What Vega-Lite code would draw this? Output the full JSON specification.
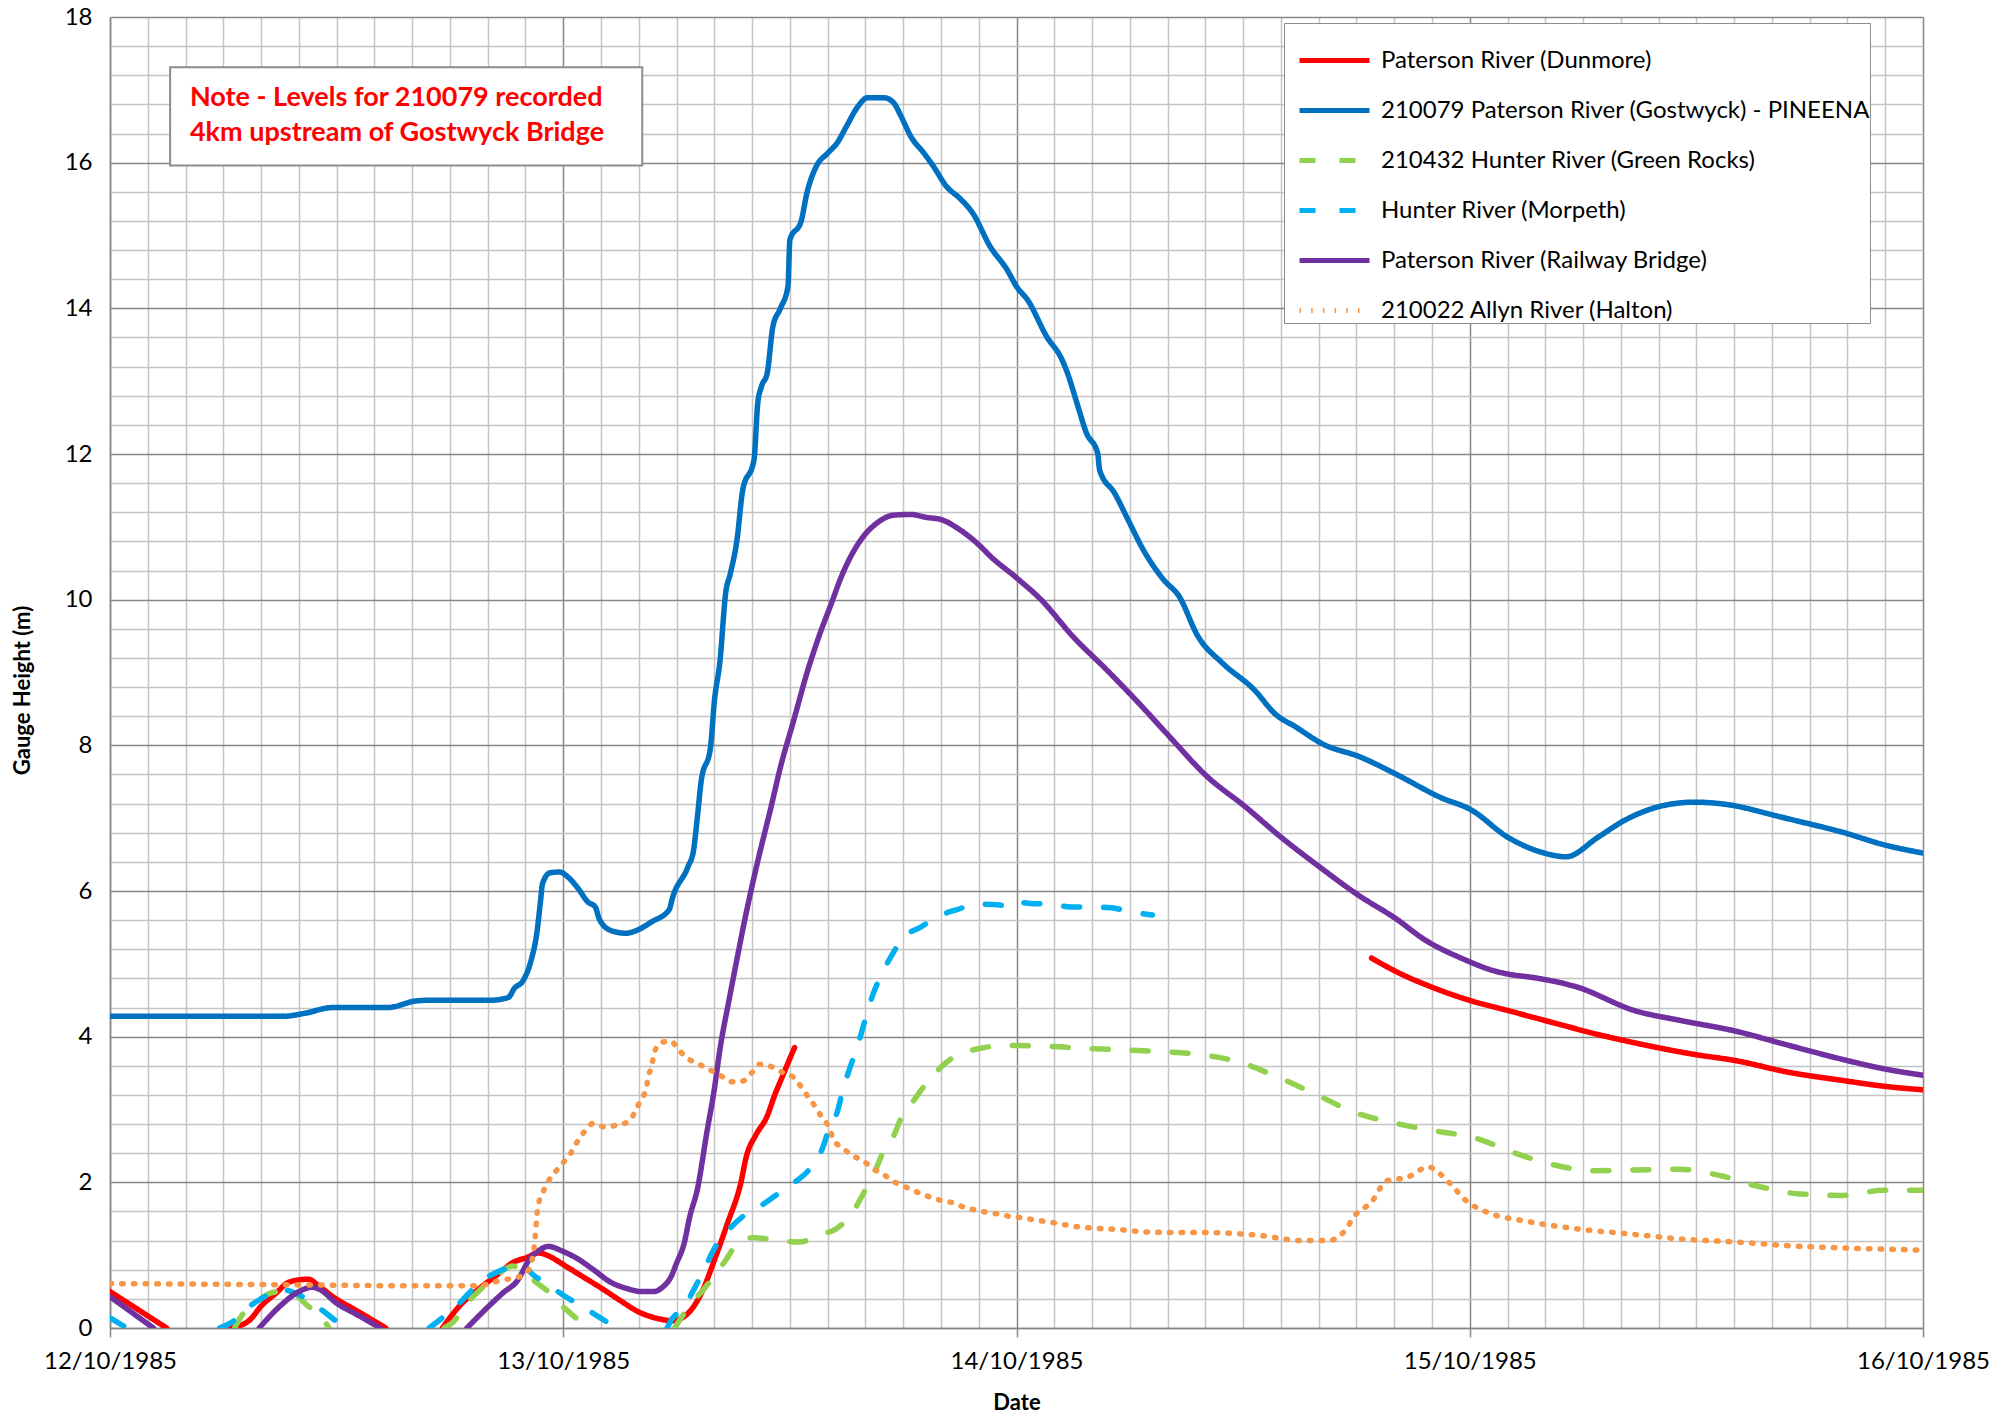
{
  "$schema": "https://vega.github.io/schema/vega-lite/v6.json",
  "width": 1813,
  "height": 1311,
  "autosize": {"type": "none"},
  "padding": {"left": 110, "top": 17, "right": 81, "bottom": 88},
  "background": "white",
  "config": {"view": {"stroke": null}},
  "layer": [
    {
      "data": {"values": [
      {"station": "Paterson River (Dunmore)", "seg": 1, "time": "1985-10-12T00:00", "level": 0.5},
      {"station": "Paterson River (Dunmore)", "seg": 1, "time": "1985-10-12T01:30", "level": 0.25},
      {"station": "Paterson River (Dunmore)", "seg": 1, "time": "1985-10-12T03:00", "level": 0},
      {"station": "Paterson River (Dunmore)", "seg": 2, "time": "1985-10-12T06:24", "level": 0},
      {"station": "Paterson River (Dunmore)", "seg": 2, "time": "1985-10-12T07:24", "level": 0.11},
      {"station": "Paterson River (Dunmore)", "seg": 2, "time": "1985-10-12T08:00", "level": 0.3},
      {"station": "Paterson River (Dunmore)", "seg": 2, "time": "1985-10-12T08:48", "level": 0.48},
      {"station": "Paterson River (Dunmore)", "seg": 2, "time": "1985-10-12T09:24", "level": 0.62},
      {"station": "Paterson River (Dunmore)", "seg": 2, "time": "1985-10-12T10:00", "level": 0.66},
      {"station": "Paterson River (Dunmore)", "seg": 2, "time": "1985-10-12T10:30", "level": 0.67},
      {"station": "Paterson River (Dunmore)", "seg": 2, "time": "1985-10-12T11:00", "level": 0.59},
      {"station": "Paterson River (Dunmore)", "seg": 2, "time": "1985-10-12T11:48", "level": 0.43},
      {"station": "Paterson River (Dunmore)", "seg": 2, "time": "1985-10-12T12:54", "level": 0.26},
      {"station": "Paterson River (Dunmore)", "seg": 2, "time": "1985-10-12T13:42", "level": 0.14},
      {"station": "Paterson River (Dunmore)", "seg": 2, "time": "1985-10-12T14:36", "level": 0},
      {"station": "Paterson River (Dunmore)", "seg": 3, "time": "1985-10-12T17:36", "level": 0},
      {"station": "Paterson River (Dunmore)", "seg": 3, "time": "1985-10-12T18:30", "level": 0.3},
      {"station": "Paterson River (Dunmore)", "seg": 3, "time": "1985-10-12T19:30", "level": 0.53},
      {"station": "Paterson River (Dunmore)", "seg": 3, "time": "1985-10-12T20:36", "level": 0.75},
      {"station": "Paterson River (Dunmore)", "seg": 3, "time": "1985-10-12T21:24", "level": 0.91},
      {"station": "Paterson River (Dunmore)", "seg": 3, "time": "1985-10-12T22:00", "level": 0.96},
      {"station": "Paterson River (Dunmore)", "seg": 3, "time": "1985-10-12T22:42", "level": 1.03},
      {"station": "Paterson River (Dunmore)", "seg": 3, "time": "1985-10-12T23:18", "level": 0.98},
      {"station": "Paterson River (Dunmore)", "seg": 3, "time": "1985-10-13T00:00", "level": 0.87},
      {"station": "Paterson River (Dunmore)", "seg": 3, "time": "1985-10-13T01:00", "level": 0.71},
      {"station": "Paterson River (Dunmore)", "seg": 3, "time": "1985-10-13T02:00", "level": 0.55},
      {"station": "Paterson River (Dunmore)", "seg": 3, "time": "1985-10-13T03:00", "level": 0.38},
      {"station": "Paterson River (Dunmore)", "seg": 3, "time": "1985-10-13T04:00", "level": 0.22},
      {"station": "Paterson River (Dunmore)", "seg": 3, "time": "1985-10-13T05:00", "level": 0.13},
      {"station": "Paterson River (Dunmore)", "seg": 3, "time": "1985-10-13T05:48", "level": 0.1},
      {"station": "Paterson River (Dunmore)", "seg": 3, "time": "1985-10-13T06:36", "level": 0.2},
      {"station": "Paterson River (Dunmore)", "seg": 3, "time": "1985-10-13T07:18", "level": 0.47},
      {"station": "Paterson River (Dunmore)", "seg": 3, "time": "1985-10-13T08:00", "level": 0.93},
      {"station": "Paterson River (Dunmore)", "seg": 3, "time": "1985-10-13T08:42", "level": 1.44},
      {"station": "Paterson River (Dunmore)", "seg": 3, "time": "1985-10-13T09:24", "level": 1.99},
      {"station": "Paterson River (Dunmore)", "seg": 3, "time": "1985-10-13T09:42", "level": 2.36},
      {"station": "Paterson River (Dunmore)", "seg": 3, "time": "1985-10-13T10:12", "level": 2.65},
      {"station": "Paterson River (Dunmore)", "seg": 3, "time": "1985-10-13T10:48", "level": 2.91},
      {"station": "Paterson River (Dunmore)", "seg": 3, "time": "1985-10-13T11:12", "level": 3.2},
      {"station": "Paterson River (Dunmore)", "seg": 3, "time": "1985-10-13T11:36", "level": 3.45},
      {"station": "Paterson River (Dunmore)", "seg": 3, "time": "1985-10-13T12:00", "level": 3.7},
      {"station": "Paterson River (Dunmore)", "seg": 3, "time": "1985-10-13T12:15", "level": 3.85},
      {"station": "Paterson River (Dunmore)", "seg": 4, "time": "1985-10-14T18:48", "level": 5.08},
      {"station": "Paterson River (Dunmore)", "seg": 4, "time": "1985-10-14T20:12", "level": 4.88},
      {"station": "Paterson River (Dunmore)", "seg": 4, "time": "1985-10-14T21:48", "level": 4.7},
      {"station": "Paterson River (Dunmore)", "seg": 4, "time": "1985-10-15T00:06", "level": 4.49},
      {"station": "Paterson River (Dunmore)", "seg": 4, "time": "1985-10-15T02:00", "level": 4.36},
      {"station": "Paterson River (Dunmore)", "seg": 4, "time": "1985-10-15T04:18", "level": 4.2},
      {"station": "Paterson River (Dunmore)", "seg": 4, "time": "1985-10-15T07:06", "level": 4.01},
      {"station": "Paterson River (Dunmore)", "seg": 4, "time": "1985-10-15T09:00", "level": 3.9},
      {"station": "Paterson River (Dunmore)", "seg": 4, "time": "1985-10-15T11:48", "level": 3.76},
      {"station": "Paterson River (Dunmore)", "seg": 4, "time": "1985-10-15T14:06", "level": 3.67},
      {"station": "Paterson River (Dunmore)", "seg": 4, "time": "1985-10-15T16:54", "level": 3.51},
      {"station": "Paterson River (Dunmore)", "seg": 4, "time": "1985-10-15T19:42", "level": 3.4},
      {"station": "Paterson River (Dunmore)", "seg": 4, "time": "1985-10-15T21:54", "level": 3.32},
      {"station": "Paterson River (Dunmore)", "seg": 4, "time": "1985-10-16T00:00", "level": 3.27},
      {"station": "210079 Paterson River (Gostwyck) - PINEENA", "seg": 1, "time": "1985-10-12T00:00", "level": 4.28},
      {"station": "210079 Paterson River (Gostwyck) - PINEENA", "seg": 1, "time": "1985-10-12T09:12", "level": 4.28},
      {"station": "210079 Paterson River (Gostwyck) - PINEENA", "seg": 1, "time": "1985-10-12T10:18", "level": 4.32},
      {"station": "210079 Paterson River (Gostwyck) - PINEENA", "seg": 1, "time": "1985-10-12T11:48", "level": 4.4},
      {"station": "210079 Paterson River (Gostwyck) - PINEENA", "seg": 1, "time": "1985-10-12T14:42", "level": 4.4},
      {"station": "210079 Paterson River (Gostwyck) - PINEENA", "seg": 1, "time": "1985-10-12T16:12", "level": 4.49},
      {"station": "210079 Paterson River (Gostwyck) - PINEENA", "seg": 1, "time": "1985-10-12T16:54", "level": 4.5},
      {"station": "210079 Paterson River (Gostwyck) - PINEENA", "seg": 1, "time": "1985-10-12T20:12", "level": 4.5},
      {"station": "210079 Paterson River (Gostwyck) - PINEENA", "seg": 1, "time": "1985-10-12T21:06", "level": 4.54},
      {"station": "210079 Paterson River (Gostwyck) - PINEENA", "seg": 1, "time": "1985-10-12T21:24", "level": 4.66},
      {"station": "210079 Paterson River (Gostwyck) - PINEENA", "seg": 1, "time": "1985-10-12T21:54", "level": 4.78},
      {"station": "210079 Paterson River (Gostwyck) - PINEENA", "seg": 1, "time": "1985-10-12T22:18", "level": 5.05},
      {"station": "210079 Paterson River (Gostwyck) - PINEENA", "seg": 1, "time": "1985-10-12T22:36", "level": 5.42},
      {"station": "210079 Paterson River (Gostwyck) - PINEENA", "seg": 1, "time": "1985-10-12T22:48", "level": 5.87},
      {"station": "210079 Paterson River (Gostwyck) - PINEENA", "seg": 1, "time": "1985-10-12T22:54", "level": 6.1},
      {"station": "210079 Paterson River (Gostwyck) - PINEENA", "seg": 1, "time": "1985-10-12T23:18", "level": 6.25},
      {"station": "210079 Paterson River (Gostwyck) - PINEENA", "seg": 1, "time": "1985-10-12T23:48", "level": 6.26},
      {"station": "210079 Paterson River (Gostwyck) - PINEENA", "seg": 1, "time": "1985-10-13T00:18", "level": 6.18},
      {"station": "210079 Paterson River (Gostwyck) - PINEENA", "seg": 1, "time": "1985-10-13T00:48", "level": 6.03},
      {"station": "210079 Paterson River (Gostwyck) - PINEENA", "seg": 1, "time": "1985-10-13T01:18", "level": 5.85},
      {"station": "210079 Paterson River (Gostwyck) - PINEENA", "seg": 1, "time": "1985-10-13T01:42", "level": 5.78},
      {"station": "210079 Paterson River (Gostwyck) - PINEENA", "seg": 1, "time": "1985-10-13T01:54", "level": 5.62},
      {"station": "210079 Paterson River (Gostwyck) - PINEENA", "seg": 1, "time": "1985-10-13T02:30", "level": 5.46},
      {"station": "210079 Paterson River (Gostwyck) - PINEENA", "seg": 1, "time": "1985-10-13T03:18", "level": 5.42},
      {"station": "210079 Paterson River (Gostwyck) - PINEENA", "seg": 1, "time": "1985-10-13T03:54", "level": 5.46},
      {"station": "210079 Paterson River (Gostwyck) - PINEENA", "seg": 1, "time": "1985-10-13T04:42", "level": 5.58},
      {"station": "210079 Paterson River (Gostwyck) - PINEENA", "seg": 1, "time": "1985-10-13T05:36", "level": 5.74},
      {"station": "210079 Paterson River (Gostwyck) - PINEENA", "seg": 1, "time": "1985-10-13T05:48", "level": 5.92},
      {"station": "210079 Paterson River (Gostwyck) - PINEENA", "seg": 1, "time": "1985-10-13T06:36", "level": 6.33},
      {"station": "210079 Paterson River (Gostwyck) - PINEENA", "seg": 1, "time": "1985-10-13T06:54", "level": 6.56},
      {"station": "210079 Paterson River (Gostwyck) - PINEENA", "seg": 1, "time": "1985-10-13T07:06", "level": 7.01},
      {"station": "210079 Paterson River (Gostwyck) - PINEENA", "seg": 1, "time": "1985-10-13T07:18", "level": 7.5},
      {"station": "210079 Paterson River (Gostwyck) - PINEENA", "seg": 1, "time": "1985-10-13T07:48", "level": 7.98},
      {"station": "210079 Paterson River (Gostwyck) - PINEENA", "seg": 1, "time": "1985-10-13T08:00", "level": 8.6},
      {"station": "210079 Paterson River (Gostwyck) - PINEENA", "seg": 1, "time": "1985-10-13T08:18", "level": 9.16},
      {"station": "210079 Paterson River (Gostwyck) - PINEENA", "seg": 1, "time": "1985-10-13T08:36", "level": 10.09},
      {"station": "210079 Paterson River (Gostwyck) - PINEENA", "seg": 1, "time": "1985-10-13T08:51", "level": 10.36},
      {"station": "210079 Paterson River (Gostwyck) - PINEENA", "seg": 1, "time": "1985-10-13T09:12", "level": 10.82},
      {"station": "210079 Paterson River (Gostwyck) - PINEENA", "seg": 1, "time": "1985-10-13T09:30", "level": 11.5},
      {"station": "210079 Paterson River (Gostwyck) - PINEENA", "seg": 1, "time": "1985-10-13T10:06", "level": 11.92},
      {"station": "210079 Paterson River (Gostwyck) - PINEENA", "seg": 1, "time": "1985-10-13T10:18", "level": 12.7},
      {"station": "210079 Paterson River (Gostwyck) - PINEENA", "seg": 1, "time": "1985-10-13T10:30", "level": 12.93},
      {"station": "210079 Paterson River (Gostwyck) - PINEENA", "seg": 1, "time": "1985-10-13T10:48", "level": 13.11},
      {"station": "210079 Paterson River (Gostwyck) - PINEENA", "seg": 1, "time": "1985-10-13T11:06", "level": 13.75},
      {"station": "210079 Paterson River (Gostwyck) - PINEENA", "seg": 1, "time": "1985-10-13T11:30", "level": 14.0},
      {"station": "210079 Paterson River (Gostwyck) - PINEENA", "seg": 1, "time": "1985-10-13T11:54", "level": 14.3},
      {"station": "210079 Paterson River (Gostwyck) - PINEENA", "seg": 1, "time": "1985-10-13T12:00", "level": 14.94},
      {"station": "210079 Paterson River (Gostwyck) - PINEENA", "seg": 1, "time": "1985-10-13T12:36", "level": 15.2},
      {"station": "210079 Paterson River (Gostwyck) - PINEENA", "seg": 1, "time": "1985-10-13T12:54", "level": 15.58},
      {"station": "210079 Paterson River (Gostwyck) - PINEENA", "seg": 1, "time": "1985-10-13T13:24", "level": 15.95},
      {"station": "210079 Paterson River (Gostwyck) - PINEENA", "seg": 1, "time": "1985-10-13T14:00", "level": 16.13},
      {"station": "210079 Paterson River (Gostwyck) - PINEENA", "seg": 1, "time": "1985-10-13T14:30", "level": 16.27},
      {"station": "210079 Paterson River (Gostwyck) - PINEENA", "seg": 1, "time": "1985-10-13T15:00", "level": 16.5},
      {"station": "210079 Paterson River (Gostwyck) - PINEENA", "seg": 1, "time": "1985-10-13T15:36", "level": 16.77},
      {"station": "210079 Paterson River (Gostwyck) - PINEENA", "seg": 1, "time": "1985-10-13T16:06", "level": 16.89},
      {"station": "210079 Paterson River (Gostwyck) - PINEENA", "seg": 1, "time": "1985-10-13T17:00", "level": 16.89},
      {"station": "210079 Paterson River (Gostwyck) - PINEENA", "seg": 1, "time": "1985-10-13T17:30", "level": 16.82},
      {"station": "210079 Paterson River (Gostwyck) - PINEENA", "seg": 1, "time": "1985-10-13T17:54", "level": 16.63},
      {"station": "210079 Paterson River (Gostwyck) - PINEENA", "seg": 1, "time": "1985-10-13T18:24", "level": 16.36},
      {"station": "210079 Paterson River (Gostwyck) - PINEENA", "seg": 1, "time": "1985-10-13T19:06", "level": 16.13},
      {"station": "210079 Paterson River (Gostwyck) - PINEENA", "seg": 1, "time": "1985-10-13T19:36", "level": 15.95},
      {"station": "210079 Paterson River (Gostwyck) - PINEENA", "seg": 1, "time": "1985-10-13T20:18", "level": 15.67},
      {"station": "210079 Paterson River (Gostwyck) - PINEENA", "seg": 1, "time": "1985-10-13T21:00", "level": 15.51},
      {"station": "210079 Paterson River (Gostwyck) - PINEENA", "seg": 1, "time": "1985-10-13T21:42", "level": 15.3},
      {"station": "210079 Paterson River (Gostwyck) - PINEENA", "seg": 1, "time": "1985-10-13T22:36", "level": 14.85},
      {"station": "210079 Paterson River (Gostwyck) - PINEENA", "seg": 1, "time": "1985-10-13T23:30", "level": 14.53},
      {"station": "210079 Paterson River (Gostwyck) - PINEENA", "seg": 1, "time": "1985-10-14T00:00", "level": 14.3},
      {"station": "210079 Paterson River (Gostwyck) - PINEENA", "seg": 1, "time": "1985-10-14T00:36", "level": 14.11},
      {"station": "210079 Paterson River (Gostwyck) - PINEENA", "seg": 1, "time": "1985-10-14T01:36", "level": 13.61},
      {"station": "210079 Paterson River (Gostwyck) - PINEENA", "seg": 1, "time": "1985-10-14T02:24", "level": 13.3},
      {"station": "210079 Paterson River (Gostwyck) - PINEENA", "seg": 1, "time": "1985-10-14T02:42", "level": 13.11},
      {"station": "210079 Paterson River (Gostwyck) - PINEENA", "seg": 1, "time": "1985-10-14T03:12", "level": 12.7},
      {"station": "210079 Paterson River (Gostwyck) - PINEENA", "seg": 1, "time": "1985-10-14T03:42", "level": 12.29},
      {"station": "210079 Paterson River (Gostwyck) - PINEENA", "seg": 1, "time": "1985-10-14T04:18", "level": 12.01},
      {"station": "210079 Paterson River (Gostwyck) - PINEENA", "seg": 1, "time": "1985-10-14T04:24", "level": 11.78},
      {"station": "210079 Paterson River (Gostwyck) - PINEENA", "seg": 1, "time": "1985-10-14T05:12", "level": 11.46},
      {"station": "210079 Paterson River (Gostwyck) - PINEENA", "seg": 1, "time": "1985-10-14T05:54", "level": 11.1},
      {"station": "210079 Paterson River (Gostwyck) - PINEENA", "seg": 1, "time": "1985-10-14T06:42", "level": 10.69},
      {"station": "210079 Paterson River (Gostwyck) - PINEENA", "seg": 1, "time": "1985-10-14T07:48", "level": 10.27},
      {"station": "210079 Paterson River (Gostwyck) - PINEENA", "seg": 1, "time": "1985-10-14T08:36", "level": 10.05},
      {"station": "210079 Paterson River (Gostwyck) - PINEENA", "seg": 1, "time": "1985-10-14T09:36", "level": 9.5},
      {"station": "210079 Paterson River (Gostwyck) - PINEENA", "seg": 1, "time": "1985-10-14T10:54", "level": 9.13},
      {"station": "210079 Paterson River (Gostwyck) - PINEENA", "seg": 1, "time": "1985-10-14T12:36", "level": 8.76},
      {"station": "210079 Paterson River (Gostwyck) - PINEENA", "seg": 1, "time": "1985-10-14T13:42", "level": 8.43},
      {"station": "210079 Paterson River (Gostwyck) - PINEENA", "seg": 1, "time": "1985-10-14T14:48", "level": 8.25},
      {"station": "210079 Paterson River (Gostwyck) - PINEENA", "seg": 1, "time": "1985-10-14T16:12", "level": 8.02},
      {"station": "210079 Paterson River (Gostwyck) - PINEENA", "seg": 1, "time": "1985-10-14T18:12", "level": 7.84},
      {"station": "210079 Paterson River (Gostwyck) - PINEENA", "seg": 1, "time": "1985-10-14T20:12", "level": 7.59},
      {"station": "210079 Paterson River (Gostwyck) - PINEENA", "seg": 1, "time": "1985-10-14T22:24", "level": 7.29},
      {"station": "210079 Paterson River (Gostwyck) - PINEENA", "seg": 1, "time": "1985-10-15T00:06", "level": 7.11},
      {"station": "210079 Paterson River (Gostwyck) - PINEENA", "seg": 1, "time": "1985-10-15T02:00", "level": 6.74},
      {"station": "210079 Paterson River (Gostwyck) - PINEENA", "seg": 1, "time": "1985-10-15T03:42", "level": 6.54},
      {"station": "210079 Paterson River (Gostwyck) - PINEENA", "seg": 1, "time": "1985-10-15T05:06", "level": 6.47},
      {"station": "210079 Paterson River (Gostwyck) - PINEENA", "seg": 1, "time": "1985-10-15T06:48", "level": 6.74},
      {"station": "210079 Paterson River (Gostwyck) - PINEENA", "seg": 1, "time": "1985-10-15T08:12", "level": 6.97},
      {"station": "210079 Paterson River (Gostwyck) - PINEENA", "seg": 1, "time": "1985-10-15T09:54", "level": 7.15},
      {"station": "210079 Paterson River (Gostwyck) - PINEENA", "seg": 1, "time": "1985-10-15T11:54", "level": 7.22},
      {"station": "210079 Paterson River (Gostwyck) - PINEENA", "seg": 1, "time": "1985-10-15T13:48", "level": 7.18},
      {"station": "210079 Paterson River (Gostwyck) - PINEENA", "seg": 1, "time": "1985-10-15T16:06", "level": 7.04},
      {"station": "210079 Paterson River (Gostwyck) - PINEENA", "seg": 1, "time": "1985-10-15T17:12", "level": 6.97},
      {"station": "210079 Paterson River (Gostwyck) - PINEENA", "seg": 1, "time": "1985-10-15T19:42", "level": 6.81},
      {"station": "210079 Paterson River (Gostwyck) - PINEENA", "seg": 1, "time": "1985-10-15T22:00", "level": 6.63},
      {"station": "210079 Paterson River (Gostwyck) - PINEENA", "seg": 1, "time": "1985-10-16T00:00", "level": 6.52},
      {"station": "210432 Hunter River (Green Rocks)", "seg": 1, "time": "1985-10-12T06:36", "level": 0},
      {"station": "210432 Hunter River (Green Rocks)", "seg": 1, "time": "1985-10-12T07:00", "level": 0.18},
      {"station": "210432 Hunter River (Green Rocks)", "seg": 1, "time": "1985-10-12T07:36", "level": 0.32},
      {"station": "210432 Hunter River (Green Rocks)", "seg": 1, "time": "1985-10-12T08:30", "level": 0.48},
      {"station": "210432 Hunter River (Green Rocks)", "seg": 1, "time": "1985-10-12T09:00", "level": 0.5},
      {"station": "210432 Hunter River (Green Rocks)", "seg": 1, "time": "1985-10-12T09:36", "level": 0.49},
      {"station": "210432 Hunter River (Green Rocks)", "seg": 1, "time": "1985-10-12T10:24", "level": 0.32},
      {"station": "210432 Hunter River (Green Rocks)", "seg": 1, "time": "1985-10-12T11:12", "level": 0.14},
      {"station": "210432 Hunter River (Green Rocks)", "seg": 1, "time": "1985-10-12T11:36", "level": 0},
      {"station": "210432 Hunter River (Green Rocks)", "seg": 2, "time": "1985-10-12T17:42", "level": 0},
      {"station": "210432 Hunter River (Green Rocks)", "seg": 2, "time": "1985-10-12T18:12", "level": 0.09},
      {"station": "210432 Hunter River (Green Rocks)", "seg": 2, "time": "1985-10-12T18:54", "level": 0.34},
      {"station": "210432 Hunter River (Green Rocks)", "seg": 2, "time": "1985-10-12T19:30", "level": 0.5},
      {"station": "210432 Hunter River (Green Rocks)", "seg": 2, "time": "1985-10-12T20:36", "level": 0.75},
      {"station": "210432 Hunter River (Green Rocks)", "seg": 2, "time": "1985-10-12T21:18", "level": 0.85},
      {"station": "210432 Hunter River (Green Rocks)", "seg": 2, "time": "1985-10-12T21:48", "level": 0.8},
      {"station": "210432 Hunter River (Green Rocks)", "seg": 2, "time": "1985-10-12T22:36", "level": 0.62},
      {"station": "210432 Hunter River (Green Rocks)", "seg": 2, "time": "1985-10-12T23:12", "level": 0.5},
      {"station": "210432 Hunter River (Green Rocks)", "seg": 2, "time": "1985-10-13T00:00", "level": 0.29},
      {"station": "210432 Hunter River (Green Rocks)", "seg": 2, "time": "1985-10-13T00:48", "level": 0.11},
      {"station": "210432 Hunter River (Green Rocks)", "seg": 2, "time": "1985-10-13T01:18", "level": 0},
      {"station": "210432 Hunter River (Green Rocks)", "seg": 3, "time": "1985-10-13T05:54", "level": 0},
      {"station": "210432 Hunter River (Green Rocks)", "seg": 3, "time": "1985-10-13T06:42", "level": 0.31},
      {"station": "210432 Hunter River (Green Rocks)", "seg": 3, "time": "1985-10-13T07:24", "level": 0.52},
      {"station": "210432 Hunter River (Green Rocks)", "seg": 3, "time": "1985-10-13T08:06", "level": 0.75},
      {"station": "210432 Hunter River (Green Rocks)", "seg": 3, "time": "1985-10-13T08:36", "level": 0.93},
      {"station": "210432 Hunter River (Green Rocks)", "seg": 3, "time": "1985-10-13T09:24", "level": 1.21},
      {"station": "210432 Hunter River (Green Rocks)", "seg": 3, "time": "1985-10-13T10:06", "level": 1.24},
      {"station": "210432 Hunter River (Green Rocks)", "seg": 3, "time": "1985-10-13T11:30", "level": 1.2},
      {"station": "210432 Hunter River (Green Rocks)", "seg": 3, "time": "1985-10-13T12:30", "level": 1.18},
      {"station": "210432 Hunter River (Green Rocks)", "seg": 3, "time": "1985-10-13T13:36", "level": 1.28},
      {"station": "210432 Hunter River (Green Rocks)", "seg": 3, "time": "1985-10-13T14:30", "level": 1.37},
      {"station": "210432 Hunter River (Green Rocks)", "seg": 3, "time": "1985-10-13T15:24", "level": 1.62},
      {"station": "210432 Hunter River (Green Rocks)", "seg": 3, "time": "1985-10-13T15:54", "level": 1.85},
      {"station": "210432 Hunter River (Green Rocks)", "seg": 3, "time": "1985-10-13T16:30", "level": 2.15},
      {"station": "210432 Hunter River (Green Rocks)", "seg": 3, "time": "1985-10-13T17:00", "level": 2.45},
      {"station": "210432 Hunter River (Green Rocks)", "seg": 3, "time": "1985-10-13T17:30", "level": 2.64},
      {"station": "210432 Hunter River (Green Rocks)", "seg": 3, "time": "1985-10-13T17:54", "level": 2.89},
      {"station": "210432 Hunter River (Green Rocks)", "seg": 3, "time": "1985-10-13T18:36", "level": 3.14},
      {"station": "210432 Hunter River (Green Rocks)", "seg": 3, "time": "1985-10-13T19:12", "level": 3.35},
      {"station": "210432 Hunter River (Green Rocks)", "seg": 3, "time": "1985-10-13T20:00", "level": 3.58},
      {"station": "210432 Hunter River (Green Rocks)", "seg": 3, "time": "1985-10-13T20:48", "level": 3.74},
      {"station": "210432 Hunter River (Green Rocks)", "seg": 3, "time": "1985-10-13T21:54", "level": 3.83},
      {"station": "210432 Hunter River (Green Rocks)", "seg": 3, "time": "1985-10-13T22:54", "level": 3.87},
      {"station": "210432 Hunter River (Green Rocks)", "seg": 3, "time": "1985-10-14T00:06", "level": 3.88},
      {"station": "210432 Hunter River (Green Rocks)", "seg": 3, "time": "1985-10-14T01:06", "level": 3.87},
      {"station": "210432 Hunter River (Green Rocks)", "seg": 3, "time": "1985-10-14T02:18", "level": 3.86},
      {"station": "210432 Hunter River (Green Rocks)", "seg": 3, "time": "1985-10-14T03:18", "level": 3.84},
      {"station": "210432 Hunter River (Green Rocks)", "seg": 3, "time": "1985-10-14T04:30", "level": 3.83},
      {"station": "210432 Hunter River (Green Rocks)", "seg": 3, "time": "1985-10-14T07:18", "level": 3.8},
      {"station": "210432 Hunter River (Green Rocks)", "seg": 3, "time": "1985-10-14T09:30", "level": 3.76},
      {"station": "210432 Hunter River (Green Rocks)", "seg": 3, "time": "1985-10-14T11:48", "level": 3.65},
      {"station": "210432 Hunter River (Green Rocks)", "seg": 3, "time": "1985-10-14T13:42", "level": 3.46},
      {"station": "210432 Hunter River (Green Rocks)", "seg": 3, "time": "1985-10-14T16:00", "level": 3.19},
      {"station": "210432 Hunter River (Green Rocks)", "seg": 3, "time": "1985-10-14T17:54", "level": 2.96},
      {"station": "210432 Hunter River (Green Rocks)", "seg": 3, "time": "1985-10-14T19:54", "level": 2.82},
      {"station": "210432 Hunter River (Green Rocks)", "seg": 3, "time": "1985-10-14T22:06", "level": 2.71},
      {"station": "210432 Hunter River (Green Rocks)", "seg": 3, "time": "1985-10-15T00:24", "level": 2.6},
      {"station": "210432 Hunter River (Green Rocks)", "seg": 3, "time": "1985-10-15T02:18", "level": 2.41},
      {"station": "210432 Hunter River (Green Rocks)", "seg": 3, "time": "1985-10-15T04:18", "level": 2.25},
      {"station": "210432 Hunter River (Green Rocks)", "seg": 3, "time": "1985-10-15T06:30", "level": 2.16},
      {"station": "210432 Hunter River (Green Rocks)", "seg": 3, "time": "1985-10-15T08:48", "level": 2.17},
      {"station": "210432 Hunter River (Green Rocks)", "seg": 3, "time": "1985-10-15T11:00", "level": 2.18},
      {"station": "210432 Hunter River (Green Rocks)", "seg": 3, "time": "1985-10-15T13:18", "level": 2.09},
      {"station": "210432 Hunter River (Green Rocks)", "seg": 3, "time": "1985-10-15T15:12", "level": 1.95},
      {"station": "210432 Hunter River (Green Rocks)", "seg": 3, "time": "1985-10-15T17:30", "level": 1.84},
      {"station": "210432 Hunter River (Green Rocks)", "seg": 3, "time": "1985-10-15T19:42", "level": 1.82},
      {"station": "210432 Hunter River (Green Rocks)", "seg": 3, "time": "1985-10-15T21:54", "level": 1.89},
      {"station": "210432 Hunter River (Green Rocks)", "seg": 3, "time": "1985-10-16T00:00", "level": 1.89},
      {"station": "Hunter River (Morpeth)", "seg": 1, "time": "1985-10-12T00:00", "level": 0.14},
      {"station": "Hunter River (Morpeth)", "seg": 1, "time": "1985-10-12T00:54", "level": 0},
      {"station": "Hunter River (Morpeth)", "seg": 2, "time": "1985-10-12T05:48", "level": 0},
      {"station": "Hunter River (Morpeth)", "seg": 2, "time": "1985-10-12T06:24", "level": 0.07},
      {"station": "Hunter River (Morpeth)", "seg": 2, "time": "1985-10-12T07:24", "level": 0.3},
      {"station": "Hunter River (Morpeth)", "seg": 2, "time": "1985-10-12T08:12", "level": 0.43},
      {"station": "Hunter River (Morpeth)", "seg": 2, "time": "1985-10-12T09:00", "level": 0.53},
      {"station": "Hunter River (Morpeth)", "seg": 2, "time": "1985-10-12T09:36", "level": 0.5},
      {"station": "Hunter River (Morpeth)", "seg": 2, "time": "1985-10-12T10:12", "level": 0.43},
      {"station": "Hunter River (Morpeth)", "seg": 2, "time": "1985-10-12T11:12", "level": 0.25},
      {"station": "Hunter River (Morpeth)", "seg": 2, "time": "1985-10-12T12:06", "level": 0.07},
      {"station": "Hunter River (Morpeth)", "seg": 2, "time": "1985-10-12T12:30", "level": 0},
      {"station": "Hunter River (Morpeth)", "seg": 3, "time": "1985-10-12T16:54", "level": 0},
      {"station": "Hunter River (Morpeth)", "seg": 3, "time": "1985-10-12T17:30", "level": 0.12},
      {"station": "Hunter River (Morpeth)", "seg": 3, "time": "1985-10-12T18:30", "level": 0.34},
      {"station": "Hunter River (Morpeth)", "seg": 3, "time": "1985-10-12T19:12", "level": 0.53},
      {"station": "Hunter River (Morpeth)", "seg": 3, "time": "1985-10-12T20:12", "level": 0.73},
      {"station": "Hunter River (Morpeth)", "seg": 3, "time": "1985-10-12T21:00", "level": 0.82},
      {"station": "Hunter River (Morpeth)", "seg": 3, "time": "1985-10-12T21:48", "level": 0.87},
      {"station": "Hunter River (Morpeth)", "seg": 3, "time": "1985-10-12T22:24", "level": 0.73},
      {"station": "Hunter River (Morpeth)", "seg": 3, "time": "1985-10-12T23:00", "level": 0.63},
      {"station": "Hunter River (Morpeth)", "seg": 3, "time": "1985-10-13T00:00", "level": 0.45},
      {"station": "Hunter River (Morpeth)", "seg": 3, "time": "1985-10-13T00:54", "level": 0.31},
      {"station": "Hunter River (Morpeth)", "seg": 3, "time": "1985-10-13T01:54", "level": 0.15},
      {"station": "Hunter River (Morpeth)", "seg": 3, "time": "1985-10-13T02:48", "level": 0},
      {"station": "Hunter River (Morpeth)", "seg": 4, "time": "1985-10-13T05:30", "level": 0},
      {"station": "Hunter River (Morpeth)", "seg": 4, "time": "1985-10-13T05:42", "level": 0.1},
      {"station": "Hunter River (Morpeth)", "seg": 4, "time": "1985-10-13T06:24", "level": 0.29},
      {"station": "Hunter River (Morpeth)", "seg": 4, "time": "1985-10-13T07:00", "level": 0.57},
      {"station": "Hunter River (Morpeth)", "seg": 4, "time": "1985-10-13T07:24", "level": 0.77},
      {"station": "Hunter River (Morpeth)", "seg": 4, "time": "1985-10-13T08:00", "level": 1.09},
      {"station": "Hunter River (Morpeth)", "seg": 4, "time": "1985-10-13T08:36", "level": 1.3},
      {"station": "Hunter River (Morpeth)", "seg": 4, "time": "1985-10-13T09:30", "level": 1.53},
      {"station": "Hunter River (Morpeth)", "seg": 4, "time": "1985-10-13T10:18", "level": 1.65},
      {"station": "Hunter River (Morpeth)", "seg": 4, "time": "1985-10-13T11:18", "level": 1.83},
      {"station": "Hunter River (Morpeth)", "seg": 4, "time": "1985-10-13T12:12", "level": 1.99},
      {"station": "Hunter River (Morpeth)", "seg": 4, "time": "1985-10-13T13:06", "level": 2.2},
      {"station": "Hunter River (Morpeth)", "seg": 4, "time": "1985-10-13T13:42", "level": 2.45},
      {"station": "Hunter River (Morpeth)", "seg": 4, "time": "1985-10-13T14:06", "level": 2.75},
      {"station": "Hunter River (Morpeth)", "seg": 4, "time": "1985-10-13T14:30", "level": 2.96},
      {"station": "Hunter River (Morpeth)", "seg": 4, "time": "1985-10-13T14:48", "level": 3.26},
      {"station": "Hunter River (Morpeth)", "seg": 4, "time": "1985-10-13T15:06", "level": 3.51},
      {"station": "Hunter River (Morpeth)", "seg": 4, "time": "1985-10-13T15:30", "level": 3.81},
      {"station": "Hunter River (Morpeth)", "seg": 4, "time": "1985-10-13T15:48", "level": 4.06},
      {"station": "Hunter River (Morpeth)", "seg": 4, "time": "1985-10-13T16:06", "level": 4.34},
      {"station": "Hunter River (Morpeth)", "seg": 4, "time": "1985-10-13T16:24", "level": 4.58},
      {"station": "Hunter River (Morpeth)", "seg": 4, "time": "1985-10-13T16:54", "level": 4.88},
      {"station": "Hunter River (Morpeth)", "seg": 4, "time": "1985-10-13T17:24", "level": 5.12},
      {"station": "Hunter River (Morpeth)", "seg": 4, "time": "1985-10-13T18:00", "level": 5.36},
      {"station": "Hunter River (Morpeth)", "seg": 4, "time": "1985-10-13T18:54", "level": 5.5},
      {"station": "Hunter River (Morpeth)", "seg": 4, "time": "1985-10-13T19:54", "level": 5.66},
      {"station": "Hunter River (Morpeth)", "seg": 4, "time": "1985-10-13T20:48", "level": 5.74},
      {"station": "Hunter River (Morpeth)", "seg": 4, "time": "1985-10-13T22:00", "level": 5.82},
      {"station": "Hunter River (Morpeth)", "seg": 4, "time": "1985-10-13T23:00", "level": 5.81},
      {"station": "Hunter River (Morpeth)", "seg": 4, "time": "1985-10-13T23:54", "level": 5.78},
      {"station": "Hunter River (Morpeth)", "seg": 4, "time": "1985-10-14T00:18", "level": 5.84},
      {"station": "Hunter River (Morpeth)", "seg": 4, "time": "1985-10-14T00:42", "level": 5.83},
      {"station": "Hunter River (Morpeth)", "seg": 4, "time": "1985-10-14T01:48", "level": 5.82},
      {"station": "Hunter River (Morpeth)", "seg": 4, "time": "1985-10-14T02:54", "level": 5.78},
      {"station": "Hunter River (Morpeth)", "seg": 4, "time": "1985-10-14T04:00", "level": 5.78},
      {"station": "Hunter River (Morpeth)", "seg": 4, "time": "1985-10-14T05:00", "level": 5.77},
      {"station": "Hunter River (Morpeth)", "seg": 4, "time": "1985-10-14T06:06", "level": 5.71},
      {"station": "Hunter River (Morpeth)", "seg": 4, "time": "1985-10-14T07:12", "level": 5.67},
      {"station": "Paterson River (Railway Bridge)", "seg": 1, "time": "1985-10-12T00:00", "level": 0.43},
      {"station": "Paterson River (Railway Bridge)", "seg": 1, "time": "1985-10-12T02:18", "level": 0},
      {"station": "Paterson River (Railway Bridge)", "seg": 2, "time": "1985-10-12T07:54", "level": 0},
      {"station": "Paterson River (Railway Bridge)", "seg": 2, "time": "1985-10-12T09:00", "level": 0.3},
      {"station": "Paterson River (Railway Bridge)", "seg": 2, "time": "1985-10-12T10:00", "level": 0.5},
      {"station": "Paterson River (Railway Bridge)", "seg": 2, "time": "1985-10-12T10:42", "level": 0.56},
      {"station": "Paterson River (Railway Bridge)", "seg": 2, "time": "1985-10-12T11:06", "level": 0.53},
      {"station": "Paterson River (Railway Bridge)", "seg": 2, "time": "1985-10-12T12:00", "level": 0.34},
      {"station": "Paterson River (Railway Bridge)", "seg": 2, "time": "1985-10-12T13:06", "level": 0.18},
      {"station": "Paterson River (Railway Bridge)", "seg": 2, "time": "1985-10-12T14:18", "level": 0},
      {"station": "Paterson River (Railway Bridge)", "seg": 3, "time": "1985-10-12T18:54", "level": 0},
      {"station": "Paterson River (Railway Bridge)", "seg": 3, "time": "1985-10-12T19:42", "level": 0.21},
      {"station": "Paterson River (Railway Bridge)", "seg": 3, "time": "1985-10-12T20:48", "level": 0.48},
      {"station": "Paterson River (Railway Bridge)", "seg": 3, "time": "1985-10-12T21:36", "level": 0.66},
      {"station": "Paterson River (Railway Bridge)", "seg": 3, "time": "1985-10-12T22:12", "level": 0.94},
      {"station": "Paterson River (Railway Bridge)", "seg": 3, "time": "1985-10-12T22:48", "level": 1.08},
      {"station": "Paterson River (Railway Bridge)", "seg": 3, "time": "1985-10-12T23:12", "level": 1.12},
      {"station": "Paterson River (Railway Bridge)", "seg": 3, "time": "1985-10-13T00:00", "level": 1.05},
      {"station": "Paterson River (Railway Bridge)", "seg": 3, "time": "1985-10-13T00:42", "level": 0.96},
      {"station": "Paterson River (Railway Bridge)", "seg": 3, "time": "1985-10-13T01:36", "level": 0.8},
      {"station": "Paterson River (Railway Bridge)", "seg": 3, "time": "1985-10-13T02:30", "level": 0.63},
      {"station": "Paterson River (Railway Bridge)", "seg": 3, "time": "1985-10-13T03:24", "level": 0.54},
      {"station": "Paterson River (Railway Bridge)", "seg": 3, "time": "1985-10-13T04:06", "level": 0.5},
      {"station": "Paterson River (Railway Bridge)", "seg": 3, "time": "1985-10-13T04:48", "level": 0.5},
      {"station": "Paterson River (Railway Bridge)", "seg": 3, "time": "1985-10-13T05:18", "level": 0.57},
      {"station": "Paterson River (Railway Bridge)", "seg": 3, "time": "1985-10-13T05:42", "level": 0.7},
      {"station": "Paterson River (Railway Bridge)", "seg": 3, "time": "1985-10-13T06:00", "level": 0.89},
      {"station": "Paterson River (Railway Bridge)", "seg": 3, "time": "1985-10-13T06:24", "level": 1.16},
      {"station": "Paterson River (Railway Bridge)", "seg": 3, "time": "1985-10-13T06:42", "level": 1.53},
      {"station": "Paterson River (Railway Bridge)", "seg": 3, "time": "1985-10-13T07:06", "level": 1.9},
      {"station": "Paterson River (Railway Bridge)", "seg": 3, "time": "1985-10-13T07:36", "level": 2.68},
      {"station": "Paterson River (Railway Bridge)", "seg": 3, "time": "1985-10-13T08:00", "level": 3.28},
      {"station": "Paterson River (Railway Bridge)", "seg": 3, "time": "1985-10-13T08:18", "level": 3.83},
      {"station": "Paterson River (Railway Bridge)", "seg": 3, "time": "1985-10-13T08:48", "level": 4.53},
      {"station": "Paterson River (Railway Bridge)", "seg": 3, "time": "1985-10-13T09:18", "level": 5.2},
      {"station": "Paterson River (Railway Bridge)", "seg": 3, "time": "1985-10-13T09:36", "level": 5.59},
      {"station": "Paterson River (Railway Bridge)", "seg": 3, "time": "1985-10-13T10:18", "level": 6.41},
      {"station": "Paterson River (Railway Bridge)", "seg": 3, "time": "1985-10-13T11:00", "level": 7.15},
      {"station": "Paterson River (Railway Bridge)", "seg": 3, "time": "1985-10-13T11:30", "level": 7.7},
      {"station": "Paterson River (Railway Bridge)", "seg": 3, "time": "1985-10-13T12:12", "level": 8.34},
      {"station": "Paterson River (Railway Bridge)", "seg": 3, "time": "1985-10-13T12:54", "level": 8.99},
      {"station": "Paterson River (Railway Bridge)", "seg": 3, "time": "1985-10-13T13:36", "level": 9.54},
      {"station": "Paterson River (Railway Bridge)", "seg": 3, "time": "1985-10-13T14:12", "level": 9.95},
      {"station": "Paterson River (Railway Bridge)", "seg": 3, "time": "1985-10-13T14:42", "level": 10.3},
      {"station": "Paterson River (Railway Bridge)", "seg": 3, "time": "1985-10-13T15:42", "level": 10.8},
      {"station": "Paterson River (Railway Bridge)", "seg": 3, "time": "1985-10-13T16:36", "level": 11.05},
      {"station": "Paterson River (Railway Bridge)", "seg": 3, "time": "1985-10-13T17:30", "level": 11.16},
      {"station": "Paterson River (Railway Bridge)", "seg": 3, "time": "1985-10-13T18:24", "level": 11.17},
      {"station": "Paterson River (Railway Bridge)", "seg": 3, "time": "1985-10-13T19:12", "level": 11.13},
      {"station": "Paterson River (Railway Bridge)", "seg": 3, "time": "1985-10-13T20:00", "level": 11.1},
      {"station": "Paterson River (Railway Bridge)", "seg": 3, "time": "1985-10-13T21:00", "level": 10.96},
      {"station": "Paterson River (Railway Bridge)", "seg": 3, "time": "1985-10-13T22:06", "level": 10.73},
      {"station": "Paterson River (Railway Bridge)", "seg": 3, "time": "1985-10-13T22:36", "level": 10.6},
      {"station": "Paterson River (Railway Bridge)", "seg": 3, "time": "1985-10-14T00:00", "level": 10.3},
      {"station": "Paterson River (Railway Bridge)", "seg": 3, "time": "1985-10-14T01:18", "level": 10.0},
      {"station": "Paterson River (Railway Bridge)", "seg": 3, "time": "1985-10-14T03:00", "level": 9.49},
      {"station": "Paterson River (Railway Bridge)", "seg": 3, "time": "1985-10-14T04:48", "level": 9.03},
      {"station": "Paterson River (Railway Bridge)", "seg": 3, "time": "1985-10-14T06:24", "level": 8.6},
      {"station": "Paterson River (Railway Bridge)", "seg": 3, "time": "1985-10-14T08:06", "level": 8.12},
      {"station": "Paterson River (Railway Bridge)", "seg": 3, "time": "1985-10-14T10:06", "level": 7.57},
      {"station": "Paterson River (Railway Bridge)", "seg": 3, "time": "1985-10-14T12:06", "level": 7.16},
      {"station": "Paterson River (Railway Bridge)", "seg": 3, "time": "1985-10-14T14:00", "level": 6.74},
      {"station": "Paterson River (Railway Bridge)", "seg": 3, "time": "1985-10-14T16:00", "level": 6.34},
      {"station": "Paterson River (Railway Bridge)", "seg": 3, "time": "1985-10-14T18:00", "level": 5.96},
      {"station": "Paterson River (Railway Bridge)", "seg": 3, "time": "1985-10-14T20:12", "level": 5.6},
      {"station": "Paterson River (Railway Bridge)", "seg": 3, "time": "1985-10-14T21:30", "level": 5.35},
      {"station": "Paterson River (Railway Bridge)", "seg": 3, "time": "1985-10-14T23:48", "level": 5.05},
      {"station": "Paterson River (Railway Bridge)", "seg": 3, "time": "1985-10-15T01:12", "level": 4.91},
      {"station": "Paterson River (Railway Bridge)", "seg": 3, "time": "1985-10-15T02:00", "level": 4.86},
      {"station": "Paterson River (Railway Bridge)", "seg": 3, "time": "1985-10-15T03:24", "level": 4.81},
      {"station": "Paterson River (Railway Bridge)", "seg": 3, "time": "1985-10-15T05:42", "level": 4.68},
      {"station": "Paterson River (Railway Bridge)", "seg": 3, "time": "1985-10-15T08:42", "level": 4.36},
      {"station": "Paterson River (Railway Bridge)", "seg": 3, "time": "1985-10-15T11:12", "level": 4.22},
      {"station": "Paterson River (Railway Bridge)", "seg": 3, "time": "1985-10-15T14:00", "level": 4.08},
      {"station": "Paterson River (Railway Bridge)", "seg": 3, "time": "1985-10-15T16:54", "level": 3.88},
      {"station": "Paterson River (Railway Bridge)", "seg": 3, "time": "1985-10-15T19:42", "level": 3.69},
      {"station": "Paterson River (Railway Bridge)", "seg": 3, "time": "1985-10-15T21:54", "level": 3.56},
      {"station": "Paterson River (Railway Bridge)", "seg": 3, "time": "1985-10-16T00:00", "level": 3.47},
      {"station": "210022 Allyn River (Halton)", "seg": 1, "time": "1985-10-12T00:00", "level": 0.61},
      {"station": "210022 Allyn River (Halton)", "seg": 1, "time": "1985-10-12T06:00", "level": 0.6},
      {"station": "210022 Allyn River (Halton)", "seg": 1, "time": "1985-10-12T11:00", "level": 0.59},
      {"station": "210022 Allyn River (Halton)", "seg": 1, "time": "1985-10-12T15:36", "level": 0.58},
      {"station": "210022 Allyn River (Halton)", "seg": 1, "time": "1985-10-12T19:30", "level": 0.58},
      {"station": "210022 Allyn River (Halton)", "seg": 1, "time": "1985-10-12T20:12", "level": 0.62},
      {"station": "210022 Allyn River (Halton)", "seg": 1, "time": "1985-10-12T20:48", "level": 0.66},
      {"station": "210022 Allyn River (Halton)", "seg": 1, "time": "1985-10-12T21:30", "level": 0.69},
      {"station": "210022 Allyn River (Halton)", "seg": 1, "time": "1985-10-12T22:00", "level": 0.75},
      {"station": "210022 Allyn River (Halton)", "seg": 1, "time": "1985-10-12T22:18", "level": 0.88},
      {"station": "210022 Allyn River (Halton)", "seg": 1, "time": "1985-10-12T22:30", "level": 1.21},
      {"station": "210022 Allyn River (Halton)", "seg": 1, "time": "1985-10-12T22:36", "level": 1.53},
      {"station": "210022 Allyn River (Halton)", "seg": 1, "time": "1985-10-12T22:42", "level": 1.71},
      {"station": "210022 Allyn River (Halton)", "seg": 1, "time": "1985-10-12T22:54", "level": 1.85},
      {"station": "210022 Allyn River (Halton)", "seg": 1, "time": "1985-10-12T23:12", "level": 2.01},
      {"station": "210022 Allyn River (Halton)", "seg": 1, "time": "1985-10-12T23:36", "level": 2.15},
      {"station": "210022 Allyn River (Halton)", "seg": 1, "time": "1985-10-13T00:00", "level": 2.27},
      {"station": "210022 Allyn River (Halton)", "seg": 1, "time": "1985-10-13T00:24", "level": 2.4},
      {"station": "210022 Allyn River (Halton)", "seg": 1, "time": "1985-10-13T00:42", "level": 2.54},
      {"station": "210022 Allyn River (Halton)", "seg": 1, "time": "1985-10-13T01:06", "level": 2.69},
      {"station": "210022 Allyn River (Halton)", "seg": 1, "time": "1985-10-13T01:36", "level": 2.81},
      {"station": "210022 Allyn River (Halton)", "seg": 1, "time": "1985-10-13T02:12", "level": 2.76},
      {"station": "210022 Allyn River (Halton)", "seg": 1, "time": "1985-10-13T02:54", "level": 2.79},
      {"station": "210022 Allyn River (Halton)", "seg": 1, "time": "1985-10-13T03:30", "level": 2.84},
      {"station": "210022 Allyn River (Halton)", "seg": 1, "time": "1985-10-13T03:48", "level": 2.97},
      {"station": "210022 Allyn River (Halton)", "seg": 1, "time": "1985-10-13T04:06", "level": 3.13},
      {"station": "210022 Allyn River (Halton)", "seg": 1, "time": "1985-10-13T04:24", "level": 3.29},
      {"station": "210022 Allyn River (Halton)", "seg": 1, "time": "1985-10-13T04:30", "level": 3.45},
      {"station": "210022 Allyn River (Halton)", "seg": 1, "time": "1985-10-13T04:42", "level": 3.61},
      {"station": "210022 Allyn River (Halton)", "seg": 1, "time": "1985-10-13T04:48", "level": 3.77},
      {"station": "210022 Allyn River (Halton)", "seg": 1, "time": "1985-10-13T05:12", "level": 3.92},
      {"station": "210022 Allyn River (Halton)", "seg": 1, "time": "1985-10-13T05:42", "level": 3.94},
      {"station": "210022 Allyn River (Halton)", "seg": 1, "time": "1985-10-13T06:06", "level": 3.82},
      {"station": "210022 Allyn River (Halton)", "seg": 1, "time": "1985-10-13T06:36", "level": 3.7},
      {"station": "210022 Allyn River (Halton)", "seg": 1, "time": "1985-10-13T07:12", "level": 3.62},
      {"station": "210022 Allyn River (Halton)", "seg": 1, "time": "1985-10-13T07:48", "level": 3.54},
      {"station": "210022 Allyn River (Halton)", "seg": 1, "time": "1985-10-13T08:18", "level": 3.47},
      {"station": "210022 Allyn River (Halton)", "seg": 1, "time": "1985-10-13T08:54", "level": 3.38},
      {"station": "210022 Allyn River (Halton)", "seg": 1, "time": "1985-10-13T09:30", "level": 3.39},
      {"station": "210022 Allyn River (Halton)", "seg": 1, "time": "1985-10-13T10:00", "level": 3.51},
      {"station": "210022 Allyn River (Halton)", "seg": 1, "time": "1985-10-13T10:24", "level": 3.62},
      {"station": "210022 Allyn River (Halton)", "seg": 1, "time": "1985-10-13T11:00", "level": 3.59},
      {"station": "210022 Allyn River (Halton)", "seg": 1, "time": "1985-10-13T11:36", "level": 3.51},
      {"station": "210022 Allyn River (Halton)", "seg": 1, "time": "1985-10-13T12:12", "level": 3.44},
      {"station": "210022 Allyn River (Halton)", "seg": 1, "time": "1985-10-13T12:36", "level": 3.31},
      {"station": "210022 Allyn River (Halton)", "seg": 1, "time": "1985-10-13T13:00", "level": 3.16},
      {"station": "210022 Allyn River (Halton)", "seg": 1, "time": "1985-10-13T13:24", "level": 3.02},
      {"station": "210022 Allyn River (Halton)", "seg": 1, "time": "1985-10-13T13:42", "level": 2.89},
      {"station": "210022 Allyn River (Halton)", "seg": 1, "time": "1985-10-13T14:06", "level": 2.74},
      {"station": "210022 Allyn River (Halton)", "seg": 1, "time": "1985-10-13T14:18", "level": 2.59},
      {"station": "210022 Allyn River (Halton)", "seg": 1, "time": "1985-10-13T14:48", "level": 2.47},
      {"station": "210022 Allyn River (Halton)", "seg": 1, "time": "1985-10-13T15:18", "level": 2.37},
      {"station": "210022 Allyn River (Halton)", "seg": 1, "time": "1985-10-13T15:54", "level": 2.29},
      {"station": "210022 Allyn River (Halton)", "seg": 1, "time": "1985-10-13T16:24", "level": 2.19},
      {"station": "210022 Allyn River (Halton)", "seg": 1, "time": "1985-10-13T17:00", "level": 2.1},
      {"station": "210022 Allyn River (Halton)", "seg": 1, "time": "1985-10-13T17:30", "level": 2.01},
      {"station": "210022 Allyn River (Halton)", "seg": 1, "time": "1985-10-13T18:06", "level": 1.94},
      {"station": "210022 Allyn River (Halton)", "seg": 1, "time": "1985-10-13T18:42", "level": 1.87},
      {"station": "210022 Allyn River (Halton)", "seg": 1, "time": "1985-10-13T19:18", "level": 1.81},
      {"station": "210022 Allyn River (Halton)", "seg": 1, "time": "1985-10-13T19:54", "level": 1.76},
      {"station": "210022 Allyn River (Halton)", "seg": 1, "time": "1985-10-13T20:36", "level": 1.72},
      {"station": "210022 Allyn River (Halton)", "seg": 1, "time": "1985-10-13T21:12", "level": 1.66},
      {"station": "210022 Allyn River (Halton)", "seg": 1, "time": "1985-10-13T21:48", "level": 1.62},
      {"station": "210022 Allyn River (Halton)", "seg": 1, "time": "1985-10-13T22:24", "level": 1.59},
      {"station": "210022 Allyn River (Halton)", "seg": 1, "time": "1985-10-13T23:06", "level": 1.56},
      {"station": "210022 Allyn River (Halton)", "seg": 1, "time": "1985-10-13T23:42", "level": 1.53},
      {"station": "210022 Allyn River (Halton)", "seg": 1, "time": "1985-10-14T00:24", "level": 1.51},
      {"station": "210022 Allyn River (Halton)", "seg": 1, "time": "1985-10-14T01:00", "level": 1.48},
      {"station": "210022 Allyn River (Halton)", "seg": 1, "time": "1985-10-14T01:36", "level": 1.46},
      {"station": "210022 Allyn River (Halton)", "seg": 1, "time": "1985-10-14T02:18", "level": 1.43},
      {"station": "210022 Allyn River (Halton)", "seg": 1, "time": "1985-10-14T02:54", "level": 1.4},
      {"station": "210022 Allyn River (Halton)", "seg": 1, "time": "1985-10-14T03:36", "level": 1.38},
      {"station": "210022 Allyn River (Halton)", "seg": 1, "time": "1985-10-14T04:12", "level": 1.37},
      {"station": "210022 Allyn River (Halton)", "seg": 1, "time": "1985-10-14T05:30", "level": 1.35},
      {"station": "210022 Allyn River (Halton)", "seg": 1, "time": "1985-10-14T06:48", "level": 1.32},
      {"station": "210022 Allyn River (Halton)", "seg": 1, "time": "1985-10-14T08:30", "level": 1.31},
      {"station": "210022 Allyn River (Halton)", "seg": 1, "time": "1985-10-14T10:06", "level": 1.31},
      {"station": "210022 Allyn River (Halton)", "seg": 1, "time": "1985-10-14T12:54", "level": 1.27},
      {"station": "210022 Allyn River (Halton)", "seg": 1, "time": "1985-10-14T15:06", "level": 1.2},
      {"station": "210022 Allyn River (Halton)", "seg": 1, "time": "1985-10-14T16:30", "level": 1.2},
      {"station": "210022 Allyn River (Halton)", "seg": 1, "time": "1985-10-14T17:24", "level": 1.34},
      {"station": "210022 Allyn River (Halton)", "seg": 1, "time": "1985-10-14T17:54", "level": 1.54},
      {"station": "210022 Allyn River (Halton)", "seg": 1, "time": "1985-10-14T18:48", "level": 1.73},
      {"station": "210022 Allyn River (Halton)", "seg": 1, "time": "1985-10-14T19:36", "level": 2.02},
      {"station": "210022 Allyn River (Halton)", "seg": 1, "time": "1985-10-14T20:42", "level": 2.07},
      {"station": "210022 Allyn River (Halton)", "seg": 1, "time": "1985-10-14T21:48", "level": 2.21},
      {"station": "210022 Allyn River (Halton)", "seg": 1, "time": "1985-10-14T22:54", "level": 2.0},
      {"station": "210022 Allyn River (Halton)", "seg": 1, "time": "1985-10-14T23:48", "level": 1.75},
      {"station": "210022 Allyn River (Halton)", "seg": 1, "time": "1985-10-15T00:54", "level": 1.59},
      {"station": "210022 Allyn River (Halton)", "seg": 1, "time": "1985-10-15T02:54", "level": 1.47},
      {"station": "210022 Allyn River (Halton)", "seg": 1, "time": "1985-10-15T05:42", "level": 1.36},
      {"station": "210022 Allyn River (Halton)", "seg": 1, "time": "1985-10-15T08:30", "level": 1.29},
      {"station": "210022 Allyn River (Halton)", "seg": 1, "time": "1985-10-15T11:18", "level": 1.22},
      {"station": "210022 Allyn River (Halton)", "seg": 1, "time": "1985-10-15T14:06", "level": 1.18},
      {"station": "210022 Allyn River (Halton)", "seg": 1, "time": "1985-10-15T16:54", "level": 1.13},
      {"station": "210022 Allyn River (Halton)", "seg": 1, "time": "1985-10-15T19:42", "level": 1.1},
      {"station": "210022 Allyn River (Halton)", "seg": 1, "time": "1985-10-16T00:00", "level": 1.07}
      ]},
      "mark": {"type": "line", "strokeCap": "round", "strokeJoin": "round", "clip": true, "interpolate": "monotone"},
      "encoding": {
        "x": {
          "field": "time", "type": "temporal",
          "scale": {"domain": [{"year": 1985, "month": 10, "date": 12}, {"year": 1985, "month": 10, "date": 16}], "nice": false},
          "axis": {
            "title": "Date",
            "tickCount": 200,
            "values": [
              {"year": 1985, "month": 10, "date": 12, "hours": 0}, {"year": 1985, "month": 10, "date": 12, "hours": 2}, {"year": 1985, "month": 10, "date": 12, "hours": 4}, {"year": 1985, "month": 10, "date": 12, "hours": 6}, {"year": 1985, "month": 10, "date": 12, "hours": 8}, {"year": 1985, "month": 10, "date": 12, "hours": 10}, {"year": 1985, "month": 10, "date": 12, "hours": 12}, {"year": 1985, "month": 10, "date": 12, "hours": 14}, {"year": 1985, "month": 10, "date": 12, "hours": 16}, {"year": 1985, "month": 10, "date": 12, "hours": 18}, {"year": 1985, "month": 10, "date": 12, "hours": 20}, {"year": 1985, "month": 10, "date": 12, "hours": 22},
              {"year": 1985, "month": 10, "date": 13, "hours": 0}, {"year": 1985, "month": 10, "date": 13, "hours": 2}, {"year": 1985, "month": 10, "date": 13, "hours": 4}, {"year": 1985, "month": 10, "date": 13, "hours": 6}, {"year": 1985, "month": 10, "date": 13, "hours": 8}, {"year": 1985, "month": 10, "date": 13, "hours": 10}, {"year": 1985, "month": 10, "date": 13, "hours": 12}, {"year": 1985, "month": 10, "date": 13, "hours": 14}, {"year": 1985, "month": 10, "date": 13, "hours": 16}, {"year": 1985, "month": 10, "date": 13, "hours": 18}, {"year": 1985, "month": 10, "date": 13, "hours": 20}, {"year": 1985, "month": 10, "date": 13, "hours": 22},
              {"year": 1985, "month": 10, "date": 14, "hours": 0}, {"year": 1985, "month": 10, "date": 14, "hours": 2}, {"year": 1985, "month": 10, "date": 14, "hours": 4}, {"year": 1985, "month": 10, "date": 14, "hours": 6}, {"year": 1985, "month": 10, "date": 14, "hours": 8}, {"year": 1985, "month": 10, "date": 14, "hours": 10}, {"year": 1985, "month": 10, "date": 14, "hours": 12}, {"year": 1985, "month": 10, "date": 14, "hours": 14}, {"year": 1985, "month": 10, "date": 14, "hours": 16}, {"year": 1985, "month": 10, "date": 14, "hours": 18}, {"year": 1985, "month": 10, "date": 14, "hours": 20}, {"year": 1985, "month": 10, "date": 14, "hours": 22},
              {"year": 1985, "month": 10, "date": 15, "hours": 0}, {"year": 1985, "month": 10, "date": 15, "hours": 2}, {"year": 1985, "month": 10, "date": 15, "hours": 4}, {"year": 1985, "month": 10, "date": 15, "hours": 6}, {"year": 1985, "month": 10, "date": 15, "hours": 8}, {"year": 1985, "month": 10, "date": 15, "hours": 10}, {"year": 1985, "month": 10, "date": 15, "hours": 12}, {"year": 1985, "month": 10, "date": 15, "hours": 14}, {"year": 1985, "month": 10, "date": 15, "hours": 16}, {"year": 1985, "month": 10, "date": 15, "hours": 18}, {"year": 1985, "month": 10, "date": 15, "hours": 20}, {"year": 1985, "month": 10, "date": 15, "hours": 22},
              {"year": 1985, "month": 10, "date": 16, "hours": 0}
            ],
            "labelExpr": "hours(datum.value) == 0 ? timeFormat(datum.value, '%d/%m/%Y') : ''",
            "labelFlush": false, "labelOverlap": false, "labelBound": false,
            "labelFont": "Lato", "labelFontSize": 24, "labelColor": "#000000", "labelPadding": 12,
            "tickSize": 9, "tickWidth": 1.5,
            "tickColor": {"condition": {"test": "hours(datum.value) == 0", "value": "#868686"}, "value": "rgba(0,0,0,0)"},
            "grid": true, "gridWidth": 1.5,
            "gridColor": {"condition": {"test": "hours(datum.value) == 0", "value": "#868686"}, "value": "#C4C4C4"},
            "domainColor": "#868686", "domainWidth": 1.5,
            "titleFont": "Lato", "titleFontSize": 22, "titleFontWeight": "bold", "titleColor": "#000000",
            "titleBaseline": "middle", "titleY": 74
          }
        },
        "y": {
          "field": "level", "type": "quantitative",
          "scale": {"domain": [0, 18], "nice": false, "zero": false},
          "axis": {
            "title": "Gauge Height (m)",
            "tickCount": 200,
            "values": [0, 0.4, 0.8, 1.2, 1.6, 2, 2.4, 2.8, 3.2, 3.6, 4, 4.4, 4.8, 5.2, 5.6, 6, 6.4, 6.8, 7.2, 7.6, 8, 8.4, 8.8, 9.2, 9.6, 10, 10.4, 10.8, 11.2, 11.6, 12, 12.4, 12.8, 13.2, 13.6, 14, 14.4, 14.8, 15.2, 15.6, 16, 16.4, 16.8, 17.2, 17.6, 18],
            "labelExpr": "datum.value % 2 == 0 ? format(datum.value, 'd') : ''",
            "labelOverlap": false, "labelBound": false, "labelFlush": false,
            "labelFont": "Lato", "labelFontSize": 24, "labelColor": "#000000", "labelPadding": 18,
            "ticks": false,
            "grid": true, "gridWidth": 1.5,
            "gridColor": {"condition": {"test": "datum.value % 2 == 0", "value": "#868686"}, "value": "#C4C4C4"},
            "domainColor": "#868686", "domainWidth": 1.5,
            "titleFont": "Lato", "titleFontSize": 22, "titleFontWeight": "bold", "titleColor": "#000000",
            "titleBaseline": "middle", "titleX": -88, "titleY": 673
          }
        },
        "color": {
          "field": "station", "type": "nominal",
          "scale": {
            "domain": ["Paterson River (Dunmore)", "210079 Paterson River (Gostwyck) - PINEENA", "210432 Hunter River (Green Rocks)", "Hunter River (Morpeth)", "Paterson River (Railway Bridge)", "210022 Allyn River (Halton)"],
            "range": ["#FF0000", "#0070C0", "#92D050", "#00B0F0", "#7030A0", "#F79646"]
          },
          "legend": {
            "title": null, "orient": "none", "legendX": 1174, "legendY": 6,
            "symbolType": "stroke", "symbolSize": 4900, "symbolStrokeWidth": 5, "symbolOffset": 13,
            "labelFont": "Lato", "labelFontSize": 24, "labelColor": "#000000", "labelLimit": 0,
            "labelOffset": 9, "rowPadding": -2.5, "padding": 0,
            "strokeColor": "#8C8C8C", "fillColor": "#FFFFFF"
          }
        },
        "strokeDash": {
          "field": "station", "type": "nominal",
          "scale": {
            "domain": ["Paterson River (Dunmore)", "210079 Paterson River (Gostwyck) - PINEENA", "210432 Hunter River (Green Rocks)", "Hunter River (Morpeth)", "Paterson River (Railway Bridge)", "210022 Allyn River (Halton)"],
            "range": [[1, 0], [1, 0], [16, 24], [16, 24], [1, 0], [1.5, 10.2]]
          },
          "legend": null
        },
        "strokeWidth": {"value": 5.5},
        "detail": {"field": "seg", "type": "nominal"}
      }
    },
    {
      "data": {"values": [{}]},
      "mark": {"type": "rect", "fill": "#FFFFFF", "stroke": "#8C8C8C", "strokeWidth": 2},
      "encoding": {
        "x": {"datum": {"year": 1985, "month": 10, "date": 12, "hours": 3, "minutes": 11}, "type": "temporal"},
        "x2": {"datum": {"year": 1985, "month": 10, "date": 13, "hours": 4, "minutes": 11}},
        "y": {"datum": 17.31, "type": "quantitative"},
        "y2": {"datum": 15.96}
      }
    },
    {
      "data": {"values": [{}]},
      "mark": {"type": "text", "align": "left", "baseline": "middle", "font": "Lato", "fontSize": 27, "fontWeight": "bold", "color": "#FF0000", "lineHeight": 35},
      "encoding": {
        "x": {"datum": {"year": 1985, "month": 10, "date": 12, "hours": 4, "minutes": 14}, "type": "temporal"},
        "y": {"datum": 16.89, "type": "quantitative"},
        "text": {"value": ["Note - Levels for 210079 recorded", "4km upstream of Gostwyck Bridge"]}
      }
    }
  ]
}
